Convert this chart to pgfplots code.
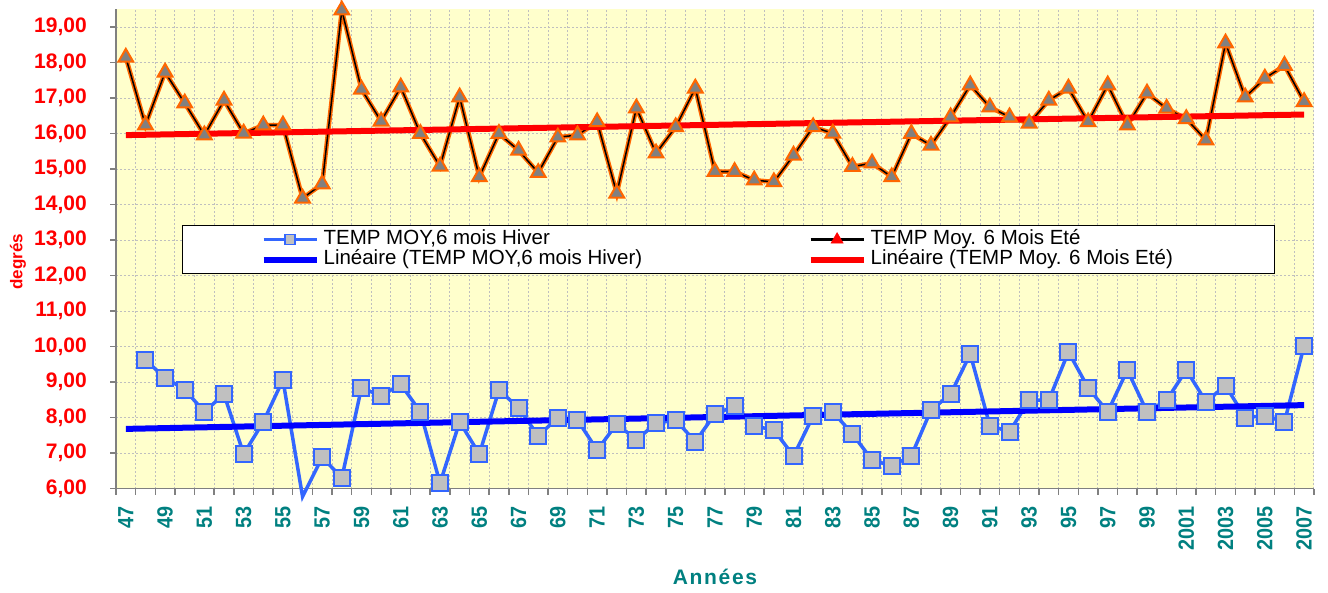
\documentclass[border=0pt]{standalone}
\usepackage{fontspec}
\setmainfont{Liberation Sans}
\newfontfamily\spaced[LetterSpace=8]{Liberation Sans}
\newfontfamily\narrowfont[FakeStretch=0.9]{Liberation Sans}
\usepackage{pgfplots}
\usepackage{pgfplotstable}
\pgfplotsset{compat=1.18}
\definecolor{bgyellow}{HTML}{FFFFCC}
\definecolor{hiverblue}{HTML}{3366FF}
\definecolor{markgray}{HTML}{C0C0C0}
\definecolor{trigray}{HTML}{808080}
\definecolor{eteorange}{HTML}{FF6600}
\definecolor{tealx}{HTML}{008080}
\definecolor{axgray}{HTML}{808080}
\definecolor{gridgray}{HTML}{BFBFBF}

\pgfplotstableread{
year ete
1947 18.15
1948 16.24
1949 17.73
1950 16.86
1951 15.96
1952 16.94
1953 16.01
1954 16.24
1955 16.24
1956 14.18
1957 14.58
1958 19.48
1959 17.25
1960 16.35
1961 17.31
1962 16.00
1963 15.08
1964 17.03
1965 14.78
1966 16.00
1967 15.53
1968 14.90
1969 15.90
1970 15.96
1971 16.33
1972 14.32
1973 16.72
1974 15.45
1975 16.19
1976 17.28
1977 14.93
1978 14.93
1979 14.69
1980 14.64
1981 15.39
1982 16.19
1983 16.01
1984 15.07
1985 15.17
1986 14.78
1987 16.00
1988 15.67
1989 16.47
1990 17.37
1991 16.75
1992 16.47
1993 16.29
1994 16.94
1995 17.28
1996 16.33
1997 17.37
1998 16.24
1999 17.14
2000 16.71
2001 16.42
2002 15.82
2003 18.55
2004 17.03
2005 17.56
2006 17.92
2007 16.90
}\etetable

\pgfplotstableread{
year hiver
1948 9.62
1949 9.12
1950 8.79
1951 8.16
1952 8.66
1953 6.97
1954 7.88
1955 9.06
1956 5.77
1957 6.88
1958 6.30
1959 8.84
1960 8.61
1961 8.94
1962 8.16
1963 6.15
1964 7.88
1965 6.97
1966 8.77
1967 8.28
1968 7.48
1969 8.00
1970 7.93
1971 7.08
1972 7.82
1973 7.37
1974 7.84
1975 7.93
1976 7.32
1977 8.10
1978 8.32
1979 7.76
1980 7.65
1981 6.92
1982 8.04
1983 8.16
1984 7.54
1985 6.80
1986 6.64
1987 6.92
1988 8.21
1989 8.66
1990 9.79
1991 7.77
1992 7.60
1993 8.49
1994 8.49
1995 9.85
1996 8.84
1997 8.16
1998 9.34
1999 8.16
2000 8.49
2001 9.34
2002 8.45
2003 8.90
2004 8.00
2005 8.05
2006 7.88
2007 10.02
}\hivertable

\begin{document}
\begin{tikzpicture}
\path[use as bounding box] (-116pt,-103.5pt) rectangle (1212pt,488.5pt);
\begin{axis}[
  at={(0pt,0pt)}, anchor=south west,
  scale only axis, width=1198pt, height=479pt,
  xmin=1946.5, xmax=2007.5, ymin=6, ymax=19.5,
  clip=false,
  axis background/.style={fill=bgyellow},
  axis x line*=bottom, axis y line*=left,
  axis line style={axgray, line width=1.5pt, -},
  xtick={1947,1949,...,2007},
  xticklabels={47,49,51,53,55,57,59,61,63,65,67,69,71,73,75,77,79,81,83,85,87,89,91,93,95,97,99,2001,2003,2005,2007},
  minor xtick={1946.5,1947.5,...,2007.5},
  ytick={6,7,...,19},
  minor ytick={6,7,...,19},
  major tick length=0pt, minor tick length=6pt, tick align=outside,
  tick style={axgray, line width=1.5pt},
  xminorgrids=true, ymajorgrids=true, xmajorgrids=false,
  grid style={gridgray, line width=1pt, dash pattern=on 2pt off 2pt},
  minor grid style={gridgray, line width=1pt, dash pattern=on 2pt off 2pt},
  /pgf/number format/fixed, /pgf/number format/fixed zerofill,
  /pgf/number format/precision=2, /pgf/number format/use comma,
  /pgf/number format/assume math mode=true,
  yticklabel style={font=\fontsize{21}{21}\selectfont\bfseries, text=red, anchor=east, inner sep=0pt, xshift=-12pt},
  yticklabel shift=17pt,
  xticklabel style={font=\narrowfont\fontsize{22}{22}\selectfont\bfseries, text=tealx, rotate=90, anchor=east, inner sep=0pt},
  xticklabel shift=18pt,
  every axis y label/.style={at={(axis description cs:-0.0818,0.473)}, anchor=center, rotate=90, font=\fontsize{17}{17}\selectfont\bfseries, text=red},
  every axis x label/.style={at={(axis description cs:0.5,-0.1848)}, anchor=center, font=\spaced\fontsize{21}{21}\selectfont\bfseries, text=tealx},
  ylabel={degrés},
  xlabel={Années},
  legend columns=2,
  legend image code/.code={\draw[mark repeat=2,mark phase=2,#1] plot coordinates {(0pt,0pt) (26.5pt,0pt) (53pt,0pt)};},
  legend style={at={(axis description cs:0.0551,0.5501)}, anchor=north west,
    draw=black, line width=1.2pt, fill=white,
    inner xsep=78pt, inner ysep=4pt, column sep=4pt, row sep=0pt,
    font=\fontsize{20.5}{20.5}\selectfont,
    nodes={inner xsep=0pt, inner ysep=0pt, text height=15pt, text depth=5pt},
    cells={anchor=west}},
]
% legend samples
\addlegendimage{hiverblue, line width=3pt, mark=square*, mark size=5pt, mark options={fill=markgray, draw=hiverblue, line width=1.5pt, solid}}
\addlegendentry{\makebox[480pt][l]{TEMP MOY,6 mois Hiver}}
\addlegendimage{black, line width=3pt, mark=triangle*, mark size=7pt, mark options={fill=red, draw=red, line width=0.5pt, solid}}
\addlegendentry{\makebox[326pt][l]{TEMP Moy. 6 Mois Eté}}
\addlegendimage{blue, line width=6pt}
\addlegendentry{\makebox[480pt][l]{Linéaire (TEMP MOY,6 mois Hiver)}}
\addlegendimage{red, line width=6pt}
\addlegendentry{\makebox[326pt][l]{Linéaire (TEMP Moy. 6 Mois Eté)}}

% summer series
\addplot[eteorange, line width=4.5pt, no marks, forget plot] table[x=year, y=ete] {\etetable};
\addplot[black, line width=1.5pt, mark=triangle*, mark size=8.5pt,
  mark options={fill=trigray, draw=eteorange, line width=2pt, solid}, forget plot]
  table[x=year, y=ete] {\etetable};

% winter series
\addplot[hiverblue, line width=3.5pt, no marks, forget plot] table[x=year, y=hiver] {\hivertable};
\addplot[only marks, mark=square*, mark size=8pt,
  mark options={fill=markgray, draw=hiverblue, line width=2pt, solid},
  restrict y to domain=5.9:25, forget plot]
  table[x=year, y=hiver] {\hivertable};

% trend lines
\addplot[blue, line width=6pt, forget plot] coordinates {(1947,7.68) (2007,8.35)};
\addplot[red, line width=6pt, forget plot] coordinates {(1947,15.96) (2007,16.54)};
\end{axis}
\end{tikzpicture}
\end{document}
